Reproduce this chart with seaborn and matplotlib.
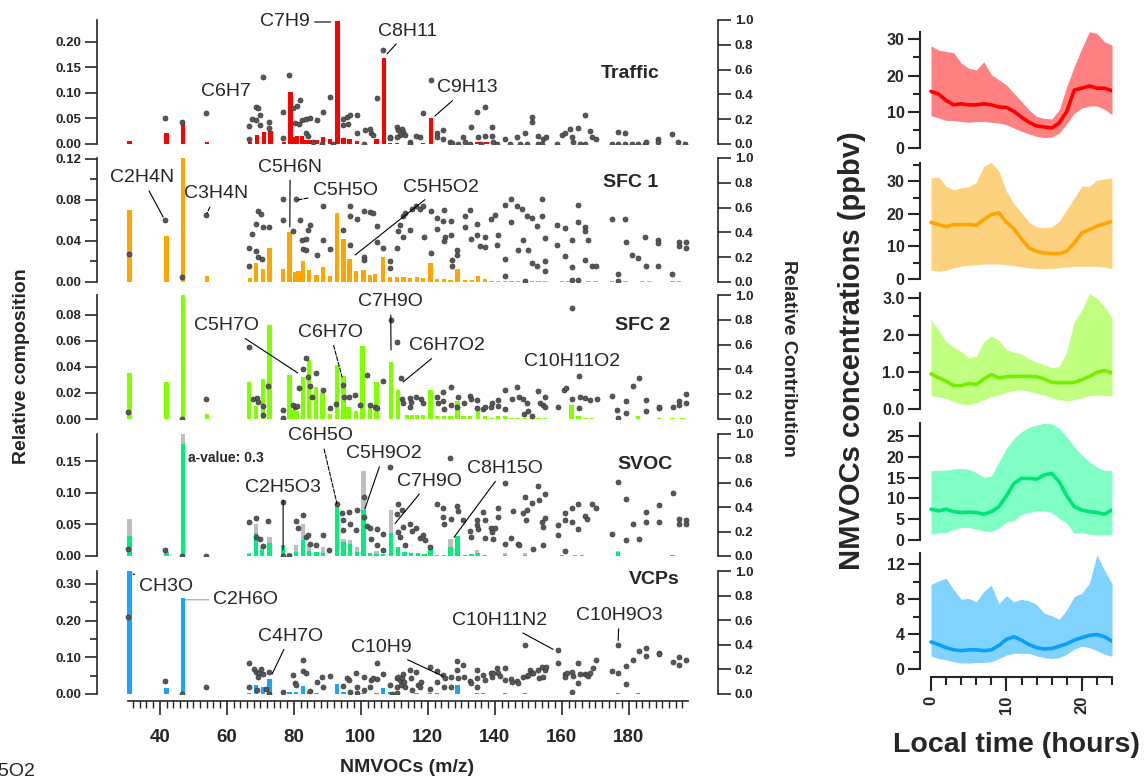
import matplotlib
matplotlib.use("Agg")
import matplotlib.pyplot as plt
from matplotlib.ticker import FixedLocator, FormatStrFormatter, NullLocator
import seaborn as sns

sns.set_theme(style="ticks")
plt.rcParams["font.family"] = ["Liberation Sans", "DejaVu Sans"]
plt.rcParams["axes.linewidth"] = 1.2

# ---------------- DATA: factor profiles (bars: relative composition) ----------------
traffic_bars = [(31, 0.006), (42, 0.022), (47, 0.0438), (54, 0.003), (67, 0.003), (69, 0.0176), (71, 0.0235),
                (73, 0.026), (77, 0.003), (79, 0.1026), (80, 0.0144), (81, 0.016), (82.5, 0.016), (83.6, 0.008),
                (84.8, 0.008), (86.8, 0.008), (88.8, 0.014), (90.8, 0.009), (93, 0.2417), (94.8, 0.011),
                (96.6, 0.009), (98.8, 0.005), (104.7, 0.009), (107, 0.168), (108.7, 0.002), (110.7, 0.002),
                (118.6, 0.002), (121, 0.050), (134.6, 0.003), (135.6, 0.003), (137.5, 0.003)]
sfc1_bars = [(31, 0.0698), (42, 0.0443), (47, 0.121), (54, 0.006), (67, 0.004), (68.7, 0.018), (70.7, 0.013),
             (72.7, 0.033), (76.7, 0.013), (78.7, 0.0486), (80.4, 0.010), (81.4, 0.011), (82.8, 0.020),
             (84.6, 0.012), (86.8, 0.007), (88.8, 0.015), (90.8, 0.006), (92.8, 0.067), (94.8, 0.0417),
             (96.6, 0.022), (98.6, 0.011), (100.8, 0.012), (102.7, 0.0068), (104.2, 0.0078), (106.7, 0.024),
             (108.7, 0.005), (110.7, 0.005), (112.7, 0.005), (114.7, 0.004), (116.7, 0.005), (118.6, 0.004),
             (120.8, 0.018), (122.8, 0.003), (124.8, 0.003), (126.8, 0.002), (128.8, 0.013), (131.1, 0.002),
             (133.1, 0.002), (135.0, 0.006), (137.0, 0.003), (139, 0.001), (141, 0.001), (143, 0.001),
             (145, 0.001), (147, 0.001), (149, 0.001), (151, 0.001), (153, 0.001), (155, 0.001), (160, 0.001),
             (162, 0.001), (165, 0.001), (168, 0.001), (170, 0.001), (175, 0.001), (177, 0.001), (179, 0.001),
             (184, 0.001), (186, 0.001), (193, 0.001), (195, 0.001)]
sfc2_bars = [(31, 0.0352), (42, 0.028), (47, 0.095), (54, 0.004), (66.7, 0.0283), (68.7, 0.0102), (70.7, 0.0306),
             (72.7, 0.072), (78.7, 0.034), (79.7, 0.007), (80.9, 0.006), (82.8, 0.032), (84.6, 0.045),
             (86.6, 0.0245), (88.6, 0.020), (90.8, 0.004), (92.8, 0.041), (94.8, 0.033), (96.3, 0.009),
             (98.6, 0.006), (100.5, 0.0556), (102.7, 0.009), (104.7, 0.028), (109, 0.0434), (111, 0.0224),
             (113.7, 0.003), (115.2, 0.003), (116.7, 0.003), (118.6, 0.003), (120.8, 0.022), (122.8, 0.002),
             (124.8, 0.002), (126.8, 0.002), (128.8, 0.014), (130.6, 0.002), (132.6, 0.002), (135, 0.0077),
             (137, 0.002), (139, 0.001), (141, 0.002), (143, 0.0026), (145, 0.001), (147, 0.001), (149, 0.001),
             (151, 0.001), (153, 0.001), (155, 0.001), (162.9, 0.011), (165, 0.002), (167, 0.001), (169, 0.001),
             (176.8, 0.001), (182.8, 0.002), (189, 0.001), (193, 0.001), (196, 0.001)]
svoc_bars = [(31, 0.031), (42, 0.005), (47, 0.177), (66.7, 0.003), (68.7, 0.036), (70.5, 0.010), (72.7, 0.020),
             (76.7, 0.017), (78.7, 0.004), (80.7, 0.006), (82.8, 0.026), (84.6, 0.008), (86.8, 0.006),
             (88.8, 0.004), (92.8, 0.078), (94.8, 0.022), (96.8, 0.019), (98.8, 0.006), (100.8, 0.073),
             (102.7, 0.004), (104.7, 0.003), (106.7, 0.003), (109, 0.036), (111, 0.014), (113, 0.006),
             (115, 0.004), (117, 0.004), (119, 0.003), (120.8, 0.012), (122.8, 0.002), (124.8, 0.002),
             (126.8, 0.014), (128.8, 0.031), (131, 0.002), (133, 0.003), (135, 0.004), (137, 0.002), (143, 0.002),
             (149, 0.002), (160, 0.001), (164, 0.001), (166, 0.001), (176.8, 0.006), (193, 0.001)]
svoc_range_bars = [(31, 0.059), (42, 0.007), (47, 0.193), (66.7, 0.005), (68.7, 0.050), (70.5, 0.018),
                   (72.7, 0.030), (80.7, 0.018), (82.8, 0.051), (84.6, 0.019), (88.8, 0.014), (92.8, 0.083),
                   (94.8, 0.027), (96.8, 0.025), (98.8, 0.014), (100.8, 0.135), (104.7, 0.008), (109, 0.072),
                   (120.8, 0.018), (126.8, 0.027), (134.6, 0.009), (143, 0.005), (149, 0.004), (176.8, 0.008)]
vcps_bars = [(31, 0.334), (42, 0.015), (47, 0.261), (66.7, 0.003), (68.7, 0.024), (70.7, 0.020), (72.7, 0.040),
             (76.7, 0.003), (78.7, 0.006), (80.7, 0.006), (82.8, 0.022), (84.6, 0.009), (86.8, 0.003),
             (92.8, 0.027), (94.8, 0.006), (96.8, 0.006), (100.8, 0.004), (104.7, 0.004), (106.7, 0.015),
             (108.7, 0.006), (110.7, 0.002), (116.6, 0.002), (120.6, 0.002), (122.8, 0.002), (128.8, 0.024),
             (134.6, 0.002), (136.5, 0.002), (143, 0.002), (149, 0.003), (176.8, 0.004), (182.8, 0.002)]

# ---------------- DATA: relative contribution (dots) ----------------
traffic_dots = [(41.5, 0.207), (46.5, 0.18), (53.7, 0.253), (66.7, 0.145), (66.7, 0.038), (67.6, 0.2), (68.7, 0.3),
                (68.7, 0.19), (69.4, 0.29), (69.9, 0.23), (69.9, 0.15), (70.9, 0.54), (72.7, 0.18), (72.7, 0.13),
                (76.9, 0.26), (76.9, 0.046), (78.7, 0.556), (79.7, 0.29), (80.9, 0.31), (81.9, 0.355), (80.4, 0.17),
                (81.4, 0.16), (82.4, 0.19), (83.6, 0.2), (84.8, 0.21), (83.6, 0.086), (84.3, 0.065), (86.8, 0.19),
                (88.8, 0.26), (90.8, 0.376), (85.8, 0.02), (88.3, 0.0), (91.8, 0.0), (94.8, 0.2), (95.8, 0.22),
                (96.8, 0.23), (94.8, 0.15), (96.3, 0.16), (98.8, 0.23), (98.8, 0.086), (100.8, 0.0), (101.1, 0.11),
                (102.7, 0.125), (102.9, 0.086), (103.7, 0.07), (104.7, 0.374), (106.7, 0.758), (108.7, 0.06),
                (108.7, 0.046), (110.7, 0.14), (111.2, 0.11), (112.2, 0.12), (112.7, 0.1), (111.7, 0.07),
                (113.2, 0.07), (110.7, 0.06), (114.7, 0.02), (114.7, 0.0), (116.6, 0.065), (117.6, 0.054),
                (118.6, 0.247), (120.8, 0.516), (122.8, 0.086), (122.8, 0.054), (124.6, 0.113), (124.6, 0.038),
                (126.6, 0.02), (127.1, 0.005), (129.1, 0.0), (130.6, 0.054), (131.1, 0.02), (132.6, 0.0),
                (132.8, 0.14), (134.6, 0.26), (137.0, 0.3), (135.1, 0.06), (136.0, 0.0), (137.0, 0.065),
                (139.0, 0.14), (139.0, 0.065), (139.5, 0.02), (140.5, 0.0), (143.0, 0.04), (144.5, 0.0),
                (146.5, 0.06), (147.5, 0.0), (149.0, 0.086), (149.5, 0.0), (151.0, 0.22), (151.0, 0.18),
                (153.0, 0.065), (153.0, 0.0), (154.5, 0.04), (155.3, 0.054), (154.0, 0.0), (158.4, 0.0),
                (159.9, 0.073), (160.9, 0.09), (162.4, 0.118), (162.9, 0.06), (163.4, 0.02), (164.9, 0.126),
                (165.4, 0.0), (166.9, 0.234), (166.9, 0.0), (168.4, 0.108), (168.9, 0.06), (170.2, 0.04),
                (174.9, 0.0), (176.8, 0.1), (176.8, 0.0), (178.8, 0.09), (178.8, 0.0), (180.8, 0.0), (182.8, 0.0),
                (184.8, 0.0), (185.1, 0.02), (188.8, 0.04), (188.8, 0.02), (192.8, 0.08), (194.8, 0.02),
                (196.7, 0.0)]
sfc1_dots = [(30.9, 0.226), (41.5, 0.5), (46.7, 0.04), (53.7, 0.538), (66.7, 0.274), (66.7, 0.125), (67.6, 0.39),
             (68.7, 0.47), (69.4, 0.57), (70.2, 0.55), (68.7, 0.25), (69.4, 0.2), (70.4, 0.185), (70.9, 0.44),
             (72.7, 0.44), (76.7, 0.67), (76.7, 0.5), (79.7, 0.41), (80.7, 0.67), (81.9, 0.5), (82.4, 0.34),
             (83.6, 0.35), (84.3, 0.42), (84.8, 0.46), (82.8, 0.27), (83.6, 0.255), (86.8, 0.22), (88.8, 0.61),
             (88.8, 0.34), (90.8, 0.27), (94.8, 0.42), (96.8, 0.61), (96.8, 0.53), (96.8, 0.3), (98.8, 0.51),
             (100.8, 0.57), (100.8, 0.2), (100.8, 0.18), (102.7, 0.565), (103.5, 0.56), (104.7, 0.45),
             (104.7, 0.32), (106.7, 0.274), (108.7, 0.17), (108.7, 0.11), (110.7, 0.274), (111.2, 0.41),
             (111.7, 0.46), (112.7, 0.53), (113.2, 0.56), (112.7, 0.36), (114.7, 0.42), (115.2, 0.59),
             (116.6, 0.61), (117.6, 0.59), (118.6, 0.61), (118.8, 0.36), (120.8, 0.573), (120.8, 0.234),
             (122.8, 0.519), (122.8, 0.429), (124.8, 0.582), (124.6, 0.492), (125.1, 0.364), (124.8, 0.329),
             (126.8, 0.492), (126.8, 0.383), (127.1, 0.179), (127.1, 0.13), (128.8, 0.255), (128.8, 0.22),
             (131.1, 0.533), (131.1, 0.446), (132.6, 0.582), (132.8, 0.348), (134.6, 0.465), (134.8, 0.375),
             (135.6, 0.288), (137.0, 0.283), (137.0, 0.364), (138.7, 0.505), (140.0, 0.538), (140.7, 0.302),
             (141.0, 0.383), (143.0, 0.62), (143.0, 0.185), (143.0, 0.049), (144.7, 0.668), (144.8, 0.484),
             (146.5, 0.614), (147.0, 0.26), (148.0, 0.587), (149.5, 0.533), (150.0, 0.255), (148.5, 0.342),
             (151.0, 0.519), (152.5, 0.451), (154.0, 0.668), (154.0, 0.533), (155.0, 0.356), (155.0, 0.166),
             (155.0, 0.092), (151.0, 0.152), (152.5, 0.125), (149.0, 0.011), (158.4, 0.457), (158.4, 0.302),
             (160.9, 0.438), (160.9, 0.207), (162.9, 0.337), (162.9, 0.12), (162.9, 0.016), (164.9, 0.62),
             (164.9, 0.484), (164.9, 0.016), (166.9, 0.446), (166.9, 0.41), (166.9, 0.179), (167.9, 0.337),
             (168.9, 0.125), (170.2, 0.125), (174.9, 0.505), (176.8, 0.065), (176.8, 0.011), (178.8, 0.511),
             (179.1, 0.32), (180.8, 0.22), (182.8, 0.193), (184.8, 0.364), (185.1, 0.125), (188.8, 0.342),
             (188.8, 0.315), (188.8, 0.133), (192.8, 0.065), (195.1, 0.32), (195.1, 0.288), (197.0, 0.32),
             (197.0, 0.274)]
sfc2_dots = [(30.6, 0.054), (46.6, 0.0), (53.7, 0.16), (66.7, 0.58), (67.9, 0.16), (68.9, 0.17), (69.4, 0.134),
             (70.9, 0.107), (70.9, 0.035), (72.4, 0.27), (76.9, 0.07), (76.9, 0.008), (79.7, 0.115), (80.4, 0.097),
             (80.9, 0.107), (81.6, 0.25), (82.6, 0.4), (83.6, 0.49), (84.2, 0.34), (84.8, 0.27), (85.3, 0.18),
             (86.6, 0.37), (88.6, 0.23), (90.8, 0.088), (92.6, 0.12), (94.6, 0.276), (95.0, 0.177), (96.6, 0.18),
             (98.3, 0.196), (99.6, 0.115), (101.7, 0.357), (102.7, 0.115), (104.2, 0.097), (104.7, 0.088),
             (106.7, 0.31), (109.0, 0.80), (110.8, 0.625), (111.9, 0.33), (112.2, 0.16), (112.7, 0.13),
             (114.7, 0.1), (114.7, 0.17), (116.6, 0.177), (118.1, 0.16), (118.6, 0.13), (114.9, 0.134),
             (122.6, 0.177), (123.1, 0.13), (124.6, 0.214), (124.6, 0.142), (124.8, 0.08), (126.8, 0.257),
             (126.8, 0.115), (129.1, 0.177), (128.8, 0.097), (130.8, 0.13), (132.6, 0.182), (132.8, 0.16),
             (134.8, 0.155), (134.8, 0.088), (136.5, 0.08), (137.0, 0.1), (139.0, 0.13), (138.7, 0.097),
             (141.0, 0.15), (141.0, 0.107), (143.0, 0.236), (143.0, 0.08), (145.0, 0.16), (146.5, 0.257),
             (147.3, 0.177), (148.5, 0.16), (149.5, 0.13), (148.7, 0.043), (150.0, 0.062), (151.0, 0.027),
             (153.0, 0.223), (153.5, 0.13), (154.3, 0.115), (155.0, 0.18), (155.0, 0.097), (158.9, 0.1),
             (160.6, 0.236), (161.2, 0.25), (162.9, 0.16), (162.9, 0.893), (165.1, 0.35), (165.1, 0.088),
             (165.3, 0.177), (166.9, 0.17), (168.4, 0.155), (170.4, 0.16), (174.9, 0.182), (176.5, 0.075),
             (176.8, 0.008), (179.1, 0.142), (179.1, 0.048), (181.1, 0.27), (183.1, 0.33), (185.1, 0.155),
             (185.1, 0.062), (189.1, 0.088), (189.1, 0.1), (193.1, 0.1), (195.1, 0.142), (195.1, 0.115),
             (197.0, 0.2), (197.0, 0.13)]
svoc_dots = [(30.6, 0.06), (41.5, 0.047), (46.6, 0.0), (53.7, 0.0), (66.7, 0.28), (68.7, 0.315), (68.7, 0.156),
             (69.9, 0.14), (70.9, 0.08), (72.4, 0.29), (76.7, 0.444), (76.7, 0.0), (78.7, 0.0), (80.7, 0.288),
             (81.3, 0.233), (82.8, 0.334), (83.6, 0.156), (84.3, 0.17), (84.8, 0.1), (86.6, 0.088), (88.6, 0.17),
             (90.6, 0.047), (92.8, 0.43), (94.3, 0.353), (94.8, 0.293), (94.8, 0.21), (96.6, 0.36), (96.8, 0.266),
             (98.8, 0.375), (98.6, 0.21), (100.8, 0.485), (100.8, 0.32), (101.7, 0.25), (102.7, 0.233),
             (102.9, 0.142), (104.7, 0.088), (104.7, 0.225), (106.7, 0.052), (106.7, 0.184), (108.7, 0.726),
             (110.7, 0.348), (111.2, 0.43), (112.2, 0.375), (111.2, 0.197), (112.7, 0.238), (111.7, 0.156),
             (113.2, 0.088), (114.7, 0.266), (115.2, 0.205), (116.6, 0.233), (117.6, 0.15), (118.6, 0.17),
             (119.1, 0.134), (120.6, 0.074), (122.8, 0.425), (124.6, 0.39), (124.6, 0.32), (124.8, 0.266),
             (126.8, 0.3), (126.6, 0.8), (128.8, 0.408), (129.1, 0.37), (130.6, 0.293), (132.6, 0.205),
             (132.8, 0.156), (134.6, 0.293), (134.8, 0.252), (135.1, 0.225), (136.5, 0.362), (137.0, 0.293),
             (137.0, 0.15), (138.7, 0.233), (139.0, 0.197), (139.3, 0.142), (140.0, 0.233), (141.0, 0.39),
             (141.0, 0.32), (143.0, 0.6), (143.0, 0.1), (144.7, 0.15), (145.3, 0.367), (147.0, 0.1),
             (147.3, 0.088), (148.5, 0.353), (149.0, 0.485), (149.3, 0.293), (149.5, 0.375), (151.0, 0.436),
             (151.3, 0.06), (153.0, 0.573), (153.3, 0.457), (154.0, 0.28), (154.5, 0.238), (155.0, 0.507),
             (155.0, 0.312), (154.5, 0.088), (158.9, 0.252), (158.9, 0.17), (160.9, 0.353), (160.9, 0.293),
             (160.9, 0.04), (162.9, 0.397), (162.9, 0.28), (164.9, 0.43), (164.9, 0.225), (166.9, 0.326),
             (167.4, 0.307), (168.9, 0.43), (170.2, 0.39), (174.9, 0.184), (176.8, 0.608), (179.1, 0.47),
             (179.1, 0.13), (181.1, 0.266), (183.1, 0.142), (185.1, 0.362), (185.1, 0.28), (189.1, 0.416),
             (189.1, 0.28), (193.1, 0.518), (195.1, 0.307), (195.1, 0.266), (197.0, 0.293), (197.0, 0.266)]
vcps_dots = [(30.6, 0.627), (41.5, 0.105), (46.6, 0.0), (53.7, 0.06), (66.7, 0.25), (66.7, 0.054), (68.2, 0.2),
             (68.7, 0.18), (69.2, 0.14), (69.7, 0.173), (70.2, 0.2), (70.7, 0.162), (71.7, 0.038), (72.7, 0.18),
             (72.7, 0.0), (68.9, 0.032), (76.7, 0.02), (79.7, 0.154), (80.4, 0.092), (80.7, 0.073), (82.8, 0.276),
             (82.8, 0.19), (83.6, 0.173), (84.8, 0.025), (86.8, 0.1), (88.3, 0.135), (88.8, 0.06), (90.8, 0.146),
             (94.8, 0.065), (95.8, 0.127), (96.6, 0.114), (96.8, 0.02), (98.6, 0.173), (98.8, 0.06), (99.0, 0.005),
             (100.8, 0.14), (100.8, 0.032), (102.7, 0.06), (102.9, 0.114), (103.5, 0.127), (104.7, 0.25),
             (104.7, 0.12), (106.7, 0.162), (108.7, 0.073), (110.7, 0.127), (110.7, 0.06), (109.2, 0.0),
             (110.7, 0.005), (111.2, 0.14), (111.7, 0.114), (112.2, 0.127), (111.9, 0.073), (112.7, 0.162),
             (112.9, 0.1), (113.2, 0.06), (114.7, 0.195), (114.9, 0.127), (115.2, 0.032), (116.6, 0.18),
             (117.1, 0.073), (117.6, 0.06), (118.1, 0.1), (120.6, 0.216), (120.6, 0.038), (122.8, 0.19),
             (122.8, 0.1), (124.6, 0.154), (124.8, 0.06), (125.1, 0.127), (126.8, 0.14), (126.8, 0.06),
             (128.8, 0.27), (128.8, 0.195), (129.1, 0.127), (130.6, 0.235), (130.8, 0.14), (132.6, 0.108),
             (132.8, 0.092), (134.6, 0.195), (134.8, 0.127), (134.8, 0.06), (136.5, 0.154), (137.0, 0.114),
             (138.7, 0.173), (139.0, 0.14), (139.5, 0.168), (140.5, 0.208), (141.0, 0.173), (141.5, 0.146),
             (143.0, 0.208), (143.0, 0.114), (144.7, 0.119), (145.0, 0.1), (146.5, 0.108), (147.0, 0.086),
             (148.5, 0.14), (149.0, 0.397), (149.5, 0.146), (150.0, 0.154), (150.5, 0.195), (151.0, 0.168),
             (151.5, 0.173), (153.0, 0.195), (153.3, 0.127), (154.0, 0.222), (154.5, 0.135), (155.0, 0.195),
             (155.3, 0.222), (158.9, 0.254), (158.9, 0.357), (160.9, 0.162), (160.9, 0.135), (161.4, 0.173),
             (162.9, 0.019), (163.1, 0.18), (163.2, 0.146), (164.9, 0.25), (164.9, 0.086), (165.4, 0.162),
             (166.9, 0.162), (167.4, 0.154), (167.9, 0.146), (168.4, 0.168), (169.2, 0.208), (170.2, 0.28),
             (174.9, 0.19), (176.8, 0.397), (176.8, 0.173), (179.1, 0.081), (179.1, 0.227), (181.1, 0.276),
             (183.1, 0.351), (185.1, 0.37), (185.1, 0.308), (189.1, 0.335), (189.1, 0.324), (193.1, 0.262),
             (195.1, 0.297), (195.1, 0.235), (197.0, 0.28)]

# ---------------- DATA: diurnal profiles (ppbv) ----------------
HOURS = list(range(25))
traffic_mean = [15.6, 14.9, 13.1, 11.9, 12.2, 11.9, 11.9, 12.2, 11.9, 11.3, 11.2, 10.1, 8.5, 7.1, 6.1, 5.8, 5.5,
                6.9, 10.1, 16.0, 16.5, 17.1, 16.5, 16.5, 15.8]
traffic_hi = [28.2, 27.0, 26.6, 26.3, 23.4, 22.0, 21.5, 23.8, 20.2, 18.8, 17.4, 15.1, 12.8, 10.5, 8.7, 8.2, 8.0,
              10.5, 17.0, 22.5, 27.5, 32.1, 31.6, 29.3, 28.4]
traffic_lo = [8.9, 8.3, 7.6, 7.6, 7.3, 7.1, 7.3, 7.3, 7.1, 6.9, 6.4, 5.5, 4.6, 3.9, 3.2, 2.9, 3.0, 4.1, 6.7, 9.6,
              11.0, 11.6, 11.6, 10.7, 9.2]
sfc1_mean = [17.4, 16.7, 16.0, 16.7, 16.7, 16.7, 16.5, 18.2, 19.8, 20.3, 17.4, 15.4, 12.3, 9.5, 8.5, 8.0, 7.8, 7.8,
             8.5, 11.1, 14.1, 15.2, 16.2, 17.0, 17.7]
sfc1_hi = [31.0, 31.3, 28.5, 27.4, 28.0, 28.3, 29.7, 34.6, 35.8, 33.1, 26.9, 23.1, 20.3, 17.4, 16.0, 15.7, 16.0,
           17.7, 21.3, 24.9, 28.5, 28.5, 30.3, 30.7, 31.0]
sfc1_lo = [2.7, 2.4, 2.7, 3.4, 3.9, 4.2, 4.4, 4.6, 4.6, 4.6, 4.4, 4.1, 3.7, 3.4, 3.2, 3.2, 3.2, 3.4, 3.7, 3.9, 3.9,
           3.9, 3.9, 3.7, 3.1]
sfc2_mean = [0.95, 0.84, 0.75, 0.63, 0.63, 0.69, 0.66, 0.81, 0.93, 0.84, 0.87, 0.88, 0.88, 0.88, 0.87, 0.81, 0.72,
             0.71, 0.71, 0.72, 0.79, 0.88, 0.99, 1.04, 0.97]
sfc2_hi = [2.42, 2.13, 1.82, 1.67, 1.55, 1.38, 1.42, 1.82, 1.97, 1.85, 1.60, 1.53, 1.49, 1.35, 1.26, 1.20, 1.11,
           1.15, 1.55, 2.36, 2.67, 3.12, 2.98, 2.76, 2.45]
sfc2_lo = [0.36, 0.33, 0.28, 0.20, 0.13, 0.12, 0.17, 0.25, 0.33, 0.38, 0.45, 0.50, 0.52, 0.48, 0.42, 0.38, 0.30,
           0.25, 0.22, 0.25, 0.30, 0.36, 0.38, 0.36, 0.35]
svoc_mean = [7.4, 7.0, 7.4, 6.8, 6.6, 6.7, 6.6, 6.2, 6.8, 8.0, 10.6, 13.6, 14.8, 14.8, 14.6, 15.6, 16.0, 14.0, 10.6,
             8.0, 7.2, 6.8, 6.6, 6.2, 7.2]
svoc_hi = [16.7, 16.7, 16.8, 17.1, 17.2, 17.0, 16.2, 15.1, 15.4, 18.8, 22.0, 24.4, 26.0, 27.1, 27.6, 28.0, 27.9,
           26.8, 24.8, 22.4, 20.4, 18.8, 17.5, 16.7, 16.7]
svoc_lo = [1.4, 1.8, 1.8, 2.6, 3.0, 3.0, 2.6, 2.2, 2.0, 2.8, 4.4, 4.6, 6.2, 6.6, 7.0, 7.0, 6.6, 5.2, 4.0, 1.6, 1.8,
           1.4, 1.2, 1.2, 1.4]
vcps_mean = [3.1, 2.8, 2.45, 2.2, 2.1, 2.2, 2.2, 2.1, 2.2, 2.7, 3.4, 3.7, 3.3, 2.8, 2.45, 2.3, 2.35, 2.6, 2.9, 3.3,
             3.6, 3.85, 3.95, 3.7, 3.2]
vcps_hi = [9.7, 10.1, 10.4, 9.1, 8.0, 8.1, 7.7, 8.9, 9.6, 7.5, 8.4, 7.7, 8.0, 7.8, 7.4, 6.4, 6.1, 5.7, 6.8, 8.3, 8.7,
           9.8, 13.1, 11.3, 9.8]
vcps_lo = [1.5, 1.2, 1.05, 0.83, 0.68, 0.68, 0.75, 0.75, 0.83, 1.2, 1.6, 1.8, 1.8, 1.8, 1.5, 1.3, 1.2, 1.3, 1.7, 2.3,
           2.6, 2.45, 2.1, 1.7, 1.45]

FACTORS = ["Traffic", "SFC 1", "SFC 2", "SVOC", "VCPs"]

# ---------------- annotations: (text, text position, pointed position, line style) ----------------
traffic_notes = [("C7H9", (77.4, 0.984), (91.0, 0.984), "-"), ("C8H11", (114.1, 0.911), (107.8, 0.726), "-"),
                 ("C6H7", (59.8, 0.42), None, "-"), ("C9H13", (131.7, 0.452), (122.1, 0.226), "-")]
sfc1_notes = [("C2H4N", (34.7, 0.839), (41.0, 0.524), "-"), ("C3H4N", (56.8, 0.71), (54.1, 0.556), "--"),
              ("C5H6N", (78.9, 0.927), (78.8, 0.444), "-"), ("C5H5O", (95.3, 0.734), (81.0, 0.661), "--"),
              ("C5H5O2", (123.9, 0.766), (98.3, 0.218), "-")]
sfc2_notes = [("C5H7O", (59.8, 0.75), (81.2, 0.371), "-"), ("C6H7O", (90.8, 0.70), (94.4, 0.339), "--"),
              ("C7H9O", (108.9, 0.944), (109.0, 0.556), "-"), ("C6H7O2", (125.7, 0.589), (112.6, 0.298), "-"),
              ("C10H11O2", (163.0, 0.46), None, "-")]
svoc_notes = [("C6H5O", (88.1, 0.984), (92.9, 0.427), "--"), ("C5H9O2", (106.9, 0.839), (101.2, 0.387), "-"),
              ("C2H5O3", (76.8, 0.565), (76.8, 0.048), "-"), ("C7H9O", (120.6, 0.613), (110.2, 0.266), "-"),
              ("C8H15O", (143.0, 0.718), (127.8, 0.153), "-")]
vcps_notes = [("CH3O", (41.8, 0.871), (32.0, 0.976), "--"), ("C2H6O", (65.7, 0.766), (47.5, 0.766), "-"),
              ("C4H7O", (78.9, 0.468), (73.5, 0.161), "-"), ("C10H9", (106.0, 0.379), (124.5, 0.145), "-"),
              ("C10H11N2", (141.5, 0.597), (157.4, 0.363), "-"), ("C10H9O3", (177.1, 0.637), (176.8, 0.435), "-")]

# ---------------- styling ----------------
W, H = 1148, 778
fig = plt.figure(figsize=(W / 100, H / 100), dpi=100)


def rect(left, top, width, height):
    return [left / W, 1 - (top + height) / H, width / W, height / H]


bar_colors = ["#FF0000", "#FFA500", "#7FFF00", "#00EE7A", "#1AA3FF"]
line_colors = ["#FF0000", "#FFA500", "#76EE00", "#00E676", "#0AA0FA"]
fill_colors = ["#FF8080", "#FDD27F", "#C0FF80", "#80FFC4", "#80D2FF"]
dot_face, dot_edge = "#585858", "#383838"

left_specs = [
    dict(top=20, h=124, ymax=0.243, major=[0, 0.05, 0.10, 0.15, 0.20], minor=[], title=(189.3, 0.565)),
    dict(top=158, h=124, ymax=0.1205, major=[0, 0.04, 0.08, 0.12], minor=[0.02, 0.06, 0.10], title=(188.8, 0.806)),
    dict(top=295, h=124, ymax=0.095, major=[0, 0.02, 0.04, 0.06, 0.08], minor=[], title=(192.3, 0.758)),
    dict(top=434, h=122, ymax=0.193, major=[0, 0.05, 0.10, 0.15], minor=[], title=(193.2, 0.75)),
    dict(top=571, h=123, ymax=0.335, major=[0, 0.10, 0.20, 0.30], minor=[0.05, 0.15, 0.25], title=(195.0, 0.927)),
]
right_specs = [
    dict(top=32, h=116, ymax=32.0, major=[0, 10, 20, 30], minor=[5, 15, 25], fmt="%d"),
    dict(top=163, h=116, ymax=35.6, major=[0, 10, 20, 30], minor=[5, 15, 25, 35], fmt="%d"),
    dict(top=293, h=116, ymax=3.13, major=[0, 1, 2, 3], minor=[0.5, 1.5, 2.5], fmt="%.1f"),
    dict(top=423, h=117, ymax=28.1, major=[0, 5, 10, 15, 20, 25], minor=[], fmt="%d"),
    dict(top=553, h=116, ymax=13.3, major=[0, 4, 8, 12], minor=[2, 6, 10], fmt="%d"),
]

all_bars = [traffic_bars, sfc1_bars, sfc2_bars, svoc_bars, vcps_bars]
all_dots = [traffic_dots, sfc1_dots, sfc2_dots, svoc_dots, vcps_dots]
all_notes = [traffic_notes, sfc1_notes, sfc2_notes, svoc_notes, vcps_notes]
diurnal = [(traffic_mean, traffic_lo, traffic_hi), (sfc1_mean, sfc1_lo, sfc1_hi), (sfc2_mean, sfc2_lo, sfc2_hi),
           (svoc_mean, svoc_lo, svoc_hi), (vcps_mean, vcps_lo, vcps_hi)]

XLIM = (21.25, 206.6)
BAR_W = 1.3
for i, spec in enumerate(left_specs):
    ax = fig.add_axes(rect(97, spec["top"], 621, spec["h"]))
    ax.set_facecolor("none")
    if FACTORS[i] == "SVOC":
        ax.bar([m for m, _ in svoc_range_bars], [v for _, v in svoc_range_bars], width=BAR_W,
               color="#BEBEBE", linewidth=0, zorder=1)
    ax.bar([m for m, _ in all_bars[i]], [v for _, v in all_bars[i]], width=BAR_W, color=bar_colors[i],
           linewidth=0, zorder=2)
    ax.set_xlim(*XLIM)
    ax.set_ylim(0, spec["ymax"])
    ax.yaxis.set_major_locator(FixedLocator(spec["major"]))
    ax.yaxis.set_minor_locator(FixedLocator(spec["minor"]) if spec["minor"] else NullLocator())
    ax.yaxis.set_major_formatter(FormatStrFormatter("%.2f"))
    ax.tick_params(axis="y", which="major", direction="out", length=9, width=1.2, labelsize=9.5, pad=2)
    ax.tick_params(axis="y", which="minor", direction="out", length=5, width=1.2)
    for lab in ax.get_yticklabels():
        lab.set_fontweight("bold")
    for s in ["top", "right"]:
        ax.spines[s].set_visible(False)
    if i < 4:
        ax.spines["bottom"].set_visible(False)
        ax.set_xticks([])
    else:
        ax.spines["bottom"].set_position(("outward", 5))
        ax.spines["bottom"].set_bounds(30.5, 197.5)
        ax.set_xticks(list(range(40, 181, 20)))
        ax.xaxis.set_minor_locator(FixedLocator(list(range(32, 198, 2))))
        ax.tick_params(axis="x", which="major", direction="out", length=10, width=1.2, labelsize=13.5, pad=10)
        ax.tick_params(axis="x", which="minor", direction="out", length=5, width=1.0)
        for lab in ax.get_xticklabels():
            lab.set_fontweight("bold")

    ax2 = ax.twinx()
    sns.scatterplot(x=[m for m, _ in all_dots[i]], y=[v for _, v in all_dots[i]], ax=ax2, s=13,
                    color=dot_face, edgecolor=dot_edge, linewidth=0.5, zorder=5, legend=False)
    ax2.set_xlim(*XLIM)
    ax2.set_ylim(0, 1)
    ax2.set_ylabel("")
    ax2.set_yticks([0, 0.2, 0.4, 0.6, 0.8, 1.0])
    ax2.yaxis.set_major_formatter(FormatStrFormatter("%.1f"))
    ax2.tick_params(axis="y", direction="out", length=9, width=1.2, labelsize=9.5, pad=3)
    for lab in ax2.get_yticklabels():
        lab.set_fontweight("bold")
    for s in ["top", "left", "bottom"]:
        ax2.spines[s].set_visible(False)
    ax2.spines["right"].set_linewidth(1.2)

    ax2.text(spec["title"][0], spec["title"][1], FACTORS[i], ha="right", va="center", fontsize=14,
             fontweight="bold")
    for txt, txy, pxy, ls in all_notes[i]:
        if pxy is None:
            ax2.text(txy[0], txy[1], txt, ha="center", va="center", fontsize=14, zorder=6)
        else:
            col = "#A0A0A0" if txt == "C2H6O" else "black"
            ax2.annotate(txt, xy=pxy, xytext=txy, textcoords="data", ha="center", va="center", fontsize=14,
                         annotation_clip=False, zorder=6,
                         arrowprops=dict(arrowstyle="-", color=col, lw=0.8, ls=ls, shrinkA=1, shrinkB=0))
    if FACTORS[i] == "SVOC":
        ax2.text(48.4, 0.80, "a-value: 0.3", ha="left", va="center", fontsize=10, fontweight="bold")

# ---------------- right column: diurnal profiles ----------------
for i, spec in enumerate(right_specs):
    ax = fig.add_axes(rect(920, spec["top"], 192, spec["h"]))
    ax.set_facecolor("none")
    mean, lo, hi = diurnal[i]
    ax.fill_between(HOURS, lo, hi, color=fill_colors[i], linewidth=0, zorder=1)
    sns.lineplot(x=HOURS, y=mean, ax=ax, color=line_colors[i], linewidth=2.6, zorder=3)
    ax.set_xlim(-1.46, 24)
    ax.set_ylim(0, spec["ymax"])
    ax.set_xlabel("")
    ax.set_ylabel("")
    ax.yaxis.set_major_locator(FixedLocator(spec["major"]))
    ax.yaxis.set_minor_locator(FixedLocator(spec["minor"]) if spec["minor"] else NullLocator())
    ax.yaxis.set_major_formatter(FormatStrFormatter(spec["fmt"]))
    ax.tick_params(axis="y", which="major", direction="out", length=9, width=1.5, labelsize=11.5, pad=2)
    ax.tick_params(axis="y", which="minor", direction="out", length=5, width=1.5)
    for lab in ax.get_yticklabels():
        lab.set_fontweight("bold")
    ax.spines["left"].set_linewidth(1.5)
    for s in ["top", "right"]:
        ax.spines[s].set_visible(False)
    if i < 4:
        ax.spines["bottom"].set_visible(False)
        ax.set_xticks([])
    else:
        ax.spines["bottom"].set_position(("outward", 6))
        ax.spines["bottom"].set_bounds(0, 24)
        ax.spines["bottom"].set_linewidth(1.5)
        ax.set_xticks([0, 10, 20])
        ax.xaxis.set_minor_locator(FixedLocator(list(range(0, 25, 2))))
        ax.tick_params(axis="x", which="major", direction="out", length=10, width=1.5, labelsize=12, pad=3,
                       labelrotation=90)
        ax.tick_params(axis="x", which="minor", direction="out", length=6, width=1.5)
        for lab in ax.get_xticklabels():
            lab.set_fontweight("bold")

# ---------------- axis titles ----------------
fig.text(22 / W, 1 - 366 / H, "Relative composition", rotation=90, ha="center", va="center", fontsize=14,
         fontweight="bold")
fig.text(788 / W, 1 - 358 / H, "Relative Contribution", rotation=-90, ha="center", va="center", fontsize=14,
         fontweight="bold")
fig.text(407 / W, 1 - 768 / H, "NMVOCs (m/z)", ha="center", va="center", fontsize=14, fontweight="bold")
fig.text(852 / W, 1 - 351 / H, "NMVOCs concentrations (ppbv)", rotation=90, ha="center", va="center",
         fontsize=21, fontweight="bold")
fig.text(1016 / W, 1 - 745 / H, "Local time (hours)", ha="center", va="center", fontsize=20.5, fontweight="bold")
# partially visible label at the bottom-left edge, as in the source figure
fig.text(35 / W, 1 - 771 / H, "C5H5O2", ha="right", va="center", fontsize=14)

fig.savefig("out.png", dpi=100)
